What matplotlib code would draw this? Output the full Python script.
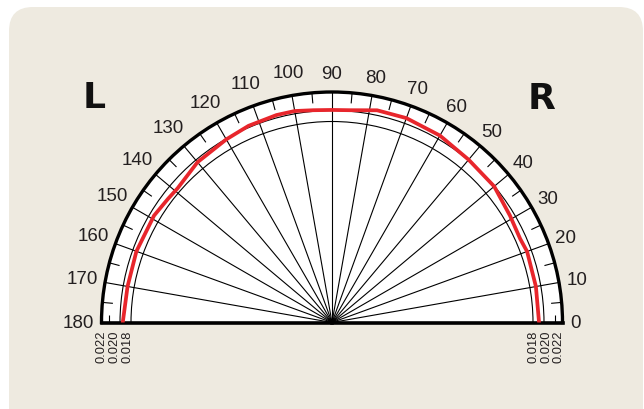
import numpy as np
import matplotlib.pyplot as plt
from matplotlib.patches import FancyBboxPatch
from matplotlib.transforms import offset_copy

# red response curve (angle in degrees, value)
angle_deg = [0, 10, 20, 24, 31, 40, 50, 60, 70, 78, 85, 90, 95, 100,
             105, 113, 120, 130, 139, 143, 149, 160, 170, 180]
response = [0.0191, 0.0191, 0.0192, 0.0189, 0.0192, 0.01995, 0.0201,
            0.0207, 0.0210, 0.0209, 0.0202, 0.0201, 0.0202, 0.0205,
            0.0205, 0.0203, 0.0199, 0.0195, 0.01865, 0.0188, 0.0192,
            0.0193, 0.0192, 0.0195]

ring_values = [0.018, 0.020]
radial_labels = ['0.018', '0.020', '0.022']
radial_label_values = [0.018, 0.020, 0.022]
angle_labels = list(range(0, 181, 10))
minor_angles = list(range(5, 180, 10))

R_MIN = -0.018545     # value at the centre
R_MAX = 0.023364      # value at the outer rim
PX = 1 / 5500.0       # value per pixel along the radius

fig = plt.figure(figsize=(6.44, 4.10), dpi=100)
fig.patch.set_facecolor('white')

panel = FancyBboxPatch((0.09, -0.5), 6.34, 4.52,
                       boxstyle='round,pad=0,rounding_size=0.24',
                       transform=fig.dpi_scale_trans,
                       facecolor='#EEEAE0', edgecolor='none', zorder=-10)
fig.add_artist(panel)

# square box; the half disc sits in its middle band
ax = fig.add_axes([101.5 / 644, -28.75 / 410, 461 / 644, 461 / 410],
                  projection='polar')
ax.set_thetamin(0)
ax.set_thetamax(180)
ax.set_ylim(R_MIN, R_MAX)
ax.set_facecolor('white')

ax.set_xticks(np.deg2rad(angle_labels))
ax.set_xticklabels([])
ax.set_yticks(ring_values)
ax.set_yticklabels([])
ax.tick_params(length=0)
ax.grid(True, color='black', lw=0.8)

ax.spines['polar'].set_linewidth(2.4)
ax.spines['start'].set_linewidth(2.6)
ax.spines['end'].set_linewidth(2.6)
ax.spines['inner'].set_visible(False)

# short ticks in the outer band
r_tick = 0.018 + 19.5 * PX
for a in minor_angles:
    t = np.deg2rad(a)
    ax.plot([t, t], [r_tick, R_MAX], color='black', lw=0.8)

# little marks for 0.022 on the base line
ax.plot([0, np.pi], [0.022, 0.022], ls='none', marker='|', ms=6, mew=0.8,
        color='black', clip_on=False,
        transform=offset_copy(ax.transData, fig=fig, y=4, units='dots'))

ax.plot(np.deg2rad(angle_deg), response, color='#E8262C', lw=2.7, zorder=4)

# angle labels round the rim
for a in angle_labels:
    s = str(a)
    r = 0.018 + (239 + 5 * len(s) - 201) * PX
    ax.text(np.deg2rad(a), r, s, ha='center', va='center', fontsize=13.5,
            family='Liberation Sans', color='#231F20', clip_on=False)

# radial value labels under the base line
right_dx = [1, 2.5, 4]
left_dx = [-3.5, -5.5, -7.5]
for s, v, dr, dl in zip(radial_labels, radial_label_values, right_dx, left_dx):
    ax.text(0, v, s, rotation=90, ha='center', va='top', fontsize=9.3,
            family='Liberation Sans', color='#231F20', clip_on=False,
            transform=offset_copy(ax.transData, fig=fig, x=dr, y=-7, units='dots'))
    ax.text(np.pi, v, s, rotation=90, ha='center', va='top', fontsize=9.3,
            family='Liberation Sans', color='#231F20', clip_on=False,
            transform=offset_copy(ax.transData, fig=fig, x=dl, y=-7, units='dots'))

fig.text(94.5 / 644, 1 - 98.5 / 410, 'L', ha='center', va='center',
         fontsize=26, fontweight='bold', family='DejaVu Sans', color='#111111')
fig.text(542 / 644, 1 - 99 / 410, 'R', ha='center', va='center',
         fontsize=26, fontweight='bold', family='DejaVu Sans', color='#111111')

fig.savefig('out.png', dpi=100)
